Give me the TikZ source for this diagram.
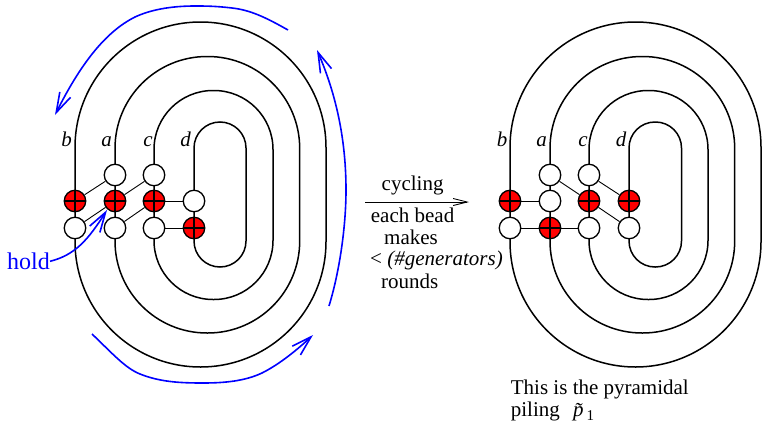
\documentclass[tikz,border=0pt]{standalone}
\usepackage{fontspec}
\setmainfont{Liberation Serif}
\usetikzlibrary{arrows.meta,backgrounds}
\tikzset{
  bead/.style={circle,draw=black,line width=1.3pt,fill=white,minimum size=21.5pt,inner sep=0pt},
  redbead/.style={bead,fill=red,path picture={
    \draw[black,line width=1.2pt] (path picture bounding box.north)--(path picture bounding box.south)
      (path picture bounding box.west)--(path picture bounding box.east);}},
  strand/.style={black,line width=1.5pt},
  link/.style={black,line width=0.9pt},
  bluearrow/.style={blue,line width=1.6pt,-{Straight Barb[length=20pt,width=12pt,line width=1.6pt]}},
  txt/.style={anchor=base west,inner sep=0pt,font=\fontsize{21}{25}\selectfont},
  lab/.style={anchor=base,inner sep=0pt,font=\fontsize{21}{25}\selectfont\itshape},
}
\begin{document}
\begin{tikzpicture}[x=1pt,y=-1pt]
\useasboundingbox (0,0) rectangle (762,423);
% left beads
\node[bead] (la1) at (115,175) {};
\node[bead] (lc1) at (154,175) {};
\node[redbead] (lb2) at (75,201) {};
\node[redbead] (la2) at (115,201) {};
\node[redbead] (lc2) at (154,201) {};
\node[bead] (ld2) at (194,201) {};
\node[bead] (lb3) at (75,228) {};
\node[bead] (la3) at (115,228) {};
\node[bead] (lc3) at (154,228) {};
\node[redbead] (ld3) at (194,228) {};
% right beads
\node[bead] (ra1) at (550,175) {};
\node[bead] (rc1) at (589,175) {};
\node[redbead] (rb2) at (510,201) {};
\node[bead] (ra2) at (550,201) {};
\node[redbead] (rc2) at (589,201) {};
\node[redbead] (rd2) at (629,201) {};
\node[bead] (rb3) at (510,228) {};
\node[redbead] (ra3) at (550,228) {};
\node[bead] (rc3) at (589,228) {};
\node[bead] (rd3) at (629,228) {};
\begin{scope}[on background layer]
  % left loops
  \draw[strand,rounded corners=125.5pt] (75,22) rectangle (326,367);
  \draw[strand,rounded corners=92pt] (115,56.5) rectangle (299.7,333);
  \draw[strand,rounded corners=59pt] (154,90.5) rectangle (273,299.5);
  \draw[strand,rounded corners=26pt] (194,122) rectangle (246,267);
  % right loops
  \draw[strand,rounded corners=125.5pt] (510,22) rectangle (761,367);
  \draw[strand,rounded corners=92pt] (550,56.5) rectangle (734.7,333);
  \draw[strand,rounded corners=59pt] (589,90.5) rectangle (708,299.5);
  \draw[strand,rounded corners=26pt] (629,122) rectangle (681.5,267);
  % left links
  \draw[link] (lb2)--(la1);
  \draw[link] (lb3)--(la2);
  \draw[link] (la2)--(lc1);
  \draw[link] (la3)--(lc2);
  \draw[link] (lc2)--(ld2);
  \draw[link] (lc3)--(ld3);
  % right links
  \draw[link] (rb2)--(ra2);
  \draw[link] (rb3)--(ra3);
  \draw[link] (ra3)--(rc3);
  \draw[link] (ra1)--(rc2);
  \draw[link] (rc1)--(rd2);
  \draw[link] (rc2)--(rd3);
\end{scope}
% strand labels
\node[lab] (lbl1) at (66.7,146) {b};
\node[lab] (lbl2) at (106.7,146) {a};
\node[lab] (lbl3) at (148,146) {c};
\node[lab] (lbl4) at (185.7,146) {d};
\node[lab] (rbl1) at (502,146) {b};
\node[lab] (rbl2) at (541.7,146) {a};
\node[lab] (rbl3) at (583,146) {c};
\node[lab] (rbl4) at (621,146) {d};
% blue arrows
\draw[bluearrow] (288,30) .. controls (265,17) and (250,10) .. (232,8)
  .. controls (215,6) and (205,6) .. (195,6)
  .. controls (170,6) and (150,10) .. (135,17)
  .. controls (105,32) and (80,65) .. (55,115);
\draw[bluearrow] (329,306) .. controls (340,270) and (346,225) .. (346,190)
  .. controls (346,130) and (332,85) .. (317,50);
\draw[bluearrow] (92,334) .. controls (112,353) and (125,368) .. (140,374)
  .. controls (160,382) and (180,383) .. (203,383)
  .. controls (225,383) and (245,381) .. (262,373)
  .. controls (280,364) and (298,349) .. (313,335);
\node[txt,text=blue,font=\fontsize{24}{28}\selectfont] (hold) at (7,269.5) {hold};
\draw[bluearrow] (hold.east) .. controls (75,255) and (88,240) .. (107,210);
% cycling arrow
\node[txt] (cyc) at (381.5,190.7) {cycling};
\coordinate (as) at (365,202);
\coordinate (ae) at (469,202);
\draw[black,line width=0.9pt,-{Straight Barb[length=14pt,width=7pt,line width=0.9pt]}] (as)--(ae);
\node[txt] (t1) at (370.7,222.7) {each bead};
\node[txt] (t2) at (384,244) {makes};
\node[txt] (t3) at (370,265) {< \textit{(\#generators)}};
\node[txt] (t4) at (381,288) {rounds};
\node[txt] (t5) at (510.7,394) {This is the pyramidal};
\node[txt] (t6) at (510.7,416.7) {piling};
\node[txt] (t7) at (573,416.7) {\rlap{\textit{\~p}}\hspace{13.5pt}\raisebox{-4pt}{\fontsize{15}{15}\selectfont 1}};
\end{tikzpicture}
\end{document}
